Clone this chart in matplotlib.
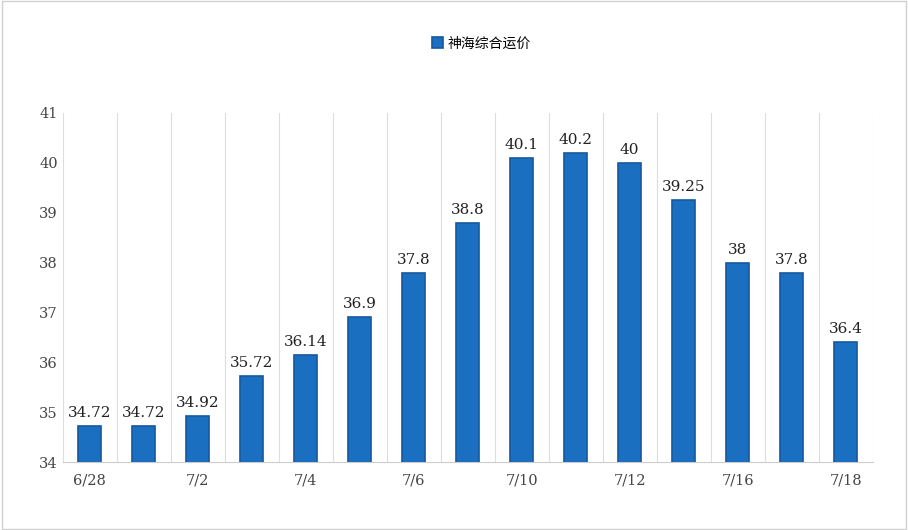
import matplotlib.pyplot as plt
import numpy as np

categories = ['6/28', '7/1', '7/2', '7/3', '7/4', '7/5', '7/6', '7/9',
              '7/10', '7/11', '7/12', '7/13', '7/16', '7/17', '7/18']
values = [34.72, 34.72, 34.92, 35.72, 36.14, 36.9, 37.8, 38.8,
          40.1, 40.2, 40, 39.25, 38, 37.8, 36.4]
value_labels = ['34.72', '34.72', '34.92', '35.72', '36.14', '36.9', '37.8', '38.8',
                '40.1', '40.2', '40', '39.25', '38', '37.8', '36.4']
series_name = '神海综合运价'

fig = plt.figure(figsize=(9.08, 5.30), dpi=100)
ax = fig.add_axes([0.069, 0.128, 0.892, 0.659])

x = np.arange(len(categories))
ax.bar(x, values, width=0.42, color='#1a6fc0', edgecolor='#1559a0',
       linewidth=1.2, label=series_name, zorder=3)

for xi, v, s in zip(x, values, value_labels):
    ax.text(xi, v + 0.12, s, ha='center', va='bottom', fontsize=11,
            family='DejaVu Serif', color='#222222', zorder=4)

ax.set_xlim(-0.5, len(categories) - 0.5)
ax.set_ylim(34, 41)
ax.set_yticks(range(34, 42))
ax.set_xticks(x)
ax.set_xticklabels([c if i % 2 == 0 else '' for i, c in enumerate(categories)],
                   family='DejaVu Serif', fontsize=10.5, color='#444444')
ax.tick_params(axis='y', labelsize=10.5, colors='#444444', length=0)
ax.tick_params(axis='x', length=0, pad=8)
for lbl in ax.get_yticklabels():
    lbl.set_family('DejaVu Serif')

# vertical separators between categories
for b in np.arange(-0.5, len(categories), 1):
    ax.axvline(b, color='#dddddd', linewidth=0.8, zorder=1)
for s in ['top', 'right', 'left']:
    ax.spines[s].set_visible(False)
ax.spines['bottom'].set_color('#cccccc')

fig.legend(loc='upper center', bbox_to_anchor=(0.53, 0.955), frameon=False,
           prop={'family': 'Noto Sans CJK SC', 'size': 10}, handlelength=0.8,
           handleheight=0.8, handletextpad=0.3)

fig.patches.append(plt.Rectangle((0.002, 0.002), 0.996, 0.996, transform=fig.transFigure,
                                 fill=False, edgecolor='#d0d0d0', linewidth=1))

fig.savefig('out.png', dpi=100, facecolor='white')
